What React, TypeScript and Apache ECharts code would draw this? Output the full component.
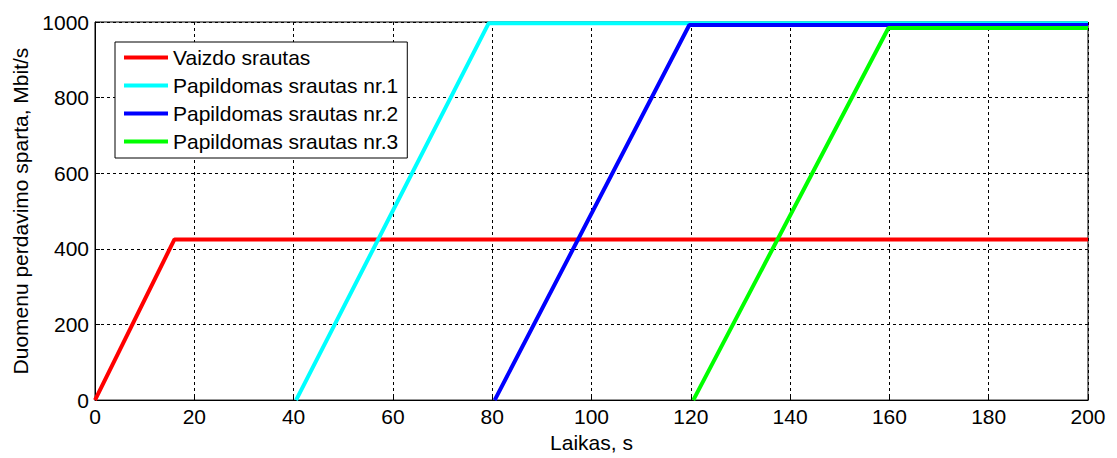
import React, { useEffect, useRef } from "react";
import * as echarts from "echarts";

const seriesNames = [
  "Vaizdo srautas",
  "Papildomas srautas nr.1",
  "Papildomas srautas nr.2",
  "Papildomas srautas nr.3",
];
const seriesColors = ["#ff0000", "#00ffff", "#0000ff", "#00ff00"];

// [time s, rate Mbit/s]
const vaizdo: [number, number][] = [[0, 0], [16, 425], [200, 425]];
const papildomas1: [number, number][] = [[40.5, 0], [79.3, 997], [200, 997]];
const papildomas2: [number, number][] = [[80.5, 0], [119.7, 992], [200, 992]];
const papildomas3: [number, number][] = [[120.5, 0], [159.8, 984], [200, 984]];

const xTicks = [0, 20, 40, 60, 80, 100, 120, 140, 160, 180, 200];
const yTicks = [0, 200, 400, 600, 800, 1000];

const FONT = "'Liberation Sans', Arial, sans-serif";
const FS = 21;

export default function App() {
  const ref = useRef<HTMLDivElement>(null);
  useEffect(() => {
    if (!ref.current) return;
    const chart = echarts.init(ref.current, undefined, { renderer: "svg" });
    const all = [vaizdo, papildomas1, papildomas2, papildomas3];
    chart.setOption({
      animation: false,
      backgroundColor: "#ffffff",
      textStyle: { fontFamily: FONT },
      grid: {
        left: 95,
        right: 29,
        top: 22,
        bottom: 52,
        show: true,
        borderColor: "#000",
        borderWidth: 1,
        backgroundColor: "transparent",
      },
      legend: {
        orient: "vertical",
        left: 115,
        top: 42,
        padding: [5, 9, 6, 9],
        itemWidth: 44,
        itemHeight: 4,
        itemGap: 7,
        icon: "rect",
        backgroundColor: "#ffffff",
        borderColor: "#000",
        borderWidth: 1,
        borderRadius: 0,
        textStyle: { fontFamily: FONT, fontSize: FS, color: "#000", lineHeight: 21 },
        data: seriesNames,
      },
      xAxis: {
        type: "value",
        min: xTicks[0],
        max: xTicks[xTicks.length - 1],
        interval: xTicks[1] - xTicks[0],
        name: "Laikas, s",
        nameLocation: "middle",
        nameGap: 30,
        nameTextStyle: { fontFamily: FONT, fontSize: FS, color: "#000" },
        axisLine: { show: true, onZero: false, lineStyle: { color: "#000", width: 1 } },
        axisTick: { show: true, inside: true, length: 5, lineStyle: { color: "#000" } },
        axisLabel: {
          fontFamily: FONT,
          fontSize: FS,
          color: "#000",
          margin: 6,
          formatter: (v: number) => String(v),
        },
        splitLine: { show: true, lineStyle: { color: "#000", type: [3, 3], width: 1 } },
      },
      yAxis: {
        type: "value",
        min: yTicks[0],
        max: yTicks[yTicks.length - 1],
        interval: yTicks[1] - yTicks[0],
        name: "Duomenu perdavimo sparta, Mbit/s",
        nameLocation: "middle",
        nameGap: 63,
        nameTextStyle: { fontFamily: FONT, fontSize: FS, color: "#000" },
        axisLine: { show: true, lineStyle: { color: "#000", width: 1 } },
        axisTick: { show: true, inside: true, length: 5, lineStyle: { color: "#000" } },
        axisLabel: {
          fontFamily: FONT,
          fontSize: FS,
          color: "#000",
          margin: 6,
          formatter: (v: number) => String(v),
        },
        splitLine: { show: true, lineStyle: { color: "#000", type: [3, 3], width: 1 } },
      },
      series: all.map((d, i) => ({
        name: seriesNames[i],
        type: "line",
        data: d,
        showSymbol: false,
        symbol: "none",
        clip: false,
        color: seriesColors[i],
        lineStyle: { color: seriesColors[i], width: 4 },
        z: 3 + i,
      })),
    });
    return () => chart.dispose();
  }, []);
  return (
    <div
      ref={ref}
      style={{ position: "absolute", left: 0, top: 0, width: 1117, height: 458, background: "#fff" }}
    />
  );
}
